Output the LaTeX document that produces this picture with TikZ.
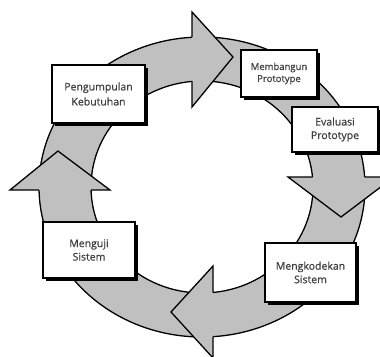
\documentclass[tikz,border=0pt]{standalone}
\usepackage{fontspec}
\setmainfont{Open Sans}[FakeBold=0.7]
\usetikzlibrary{shadows}
\definecolor{ringgray}{RGB}{192,192,192}

\begin{document}
\begin{tikzpicture}
	[x=1pt,y=-1pt,line join=miter,
	ring/.style={fill=ringgray,draw=black,line width=1.3pt},
	head/.style={fill=ringgray},
	headline/.style={draw=black,line width=1.3pt},
	phase/.style={shape=rectangle,draw,line width=1.3pt,fill=white,align=center,inner sep=0pt,
		text=black!75,font=\fontsize{10.5}{13.5}\selectfont,
		drop shadow={shadow xshift=3pt,shadow yshift=-3pt,fill=black,opacity=1}}]
	\useasboundingbox (0,0) rectangle (380,356);

	% the ring
	\path[ring,even odd rule] (202,187) ellipse [x radius=163pt,y radius=150pt]
		(202,187) ellipse [x radius=111pt,y radius=106pt];

	% arrow heads on the ring
	\fill[head] (192,12) -- (233,57) -- (192,107) -- cycle;
	\draw[headline] (192,37) -- (192,12) -- (233,57) -- (192,107) -- (192,81);

	\fill[head] (288,177) -- (341,217) -- (394,177) -- cycle;
	\draw[headline] (312.5,177) -- (288,177) -- (341,217) -- (394,177) -- (364.6,177);

	\fill[head] (213,266) -- (171,312) -- (213,358) -- cycle;
	\draw[headline] (213,292.5) -- (213,266) -- (171,312) -- (213,358) -- (213,336.7);

	\fill[head] (110,190) -- (58,151) -- (10,190) -- cycle;
	\draw[headline] (91,190) -- (110,190) -- (58,151) -- (10,190) -- (39,190);

	% the phases
	\node [phase,minimum width=93pt,minimum height=58pt,font=\fontsize{10.5}{15}\selectfont] (collect) at (98.5,94) {Pengumpulan\\Kebutuhan};
	\node [phase,minimum width=76pt,minimum height=47pt,font=\fontsize{9.5}{12}\selectfont] (build) at (279,73.5) {Membangun\\Prototype};
	\node [phase,minimum width=86pt,minimum height=45pt] (evaluate) at (335,129.5) {Evaluasi\\Prototype};
	\node [phase,minimum width=91pt,minimum height=59pt] (code) at (310.5,272.5) {Mengkodekan\\Sistem};
	\node [phase,minimum width=92pt,minimum height=56pt] (test) at (89,250) {Menguji\\Sistem};

\end{tikzpicture}
\end{document}
